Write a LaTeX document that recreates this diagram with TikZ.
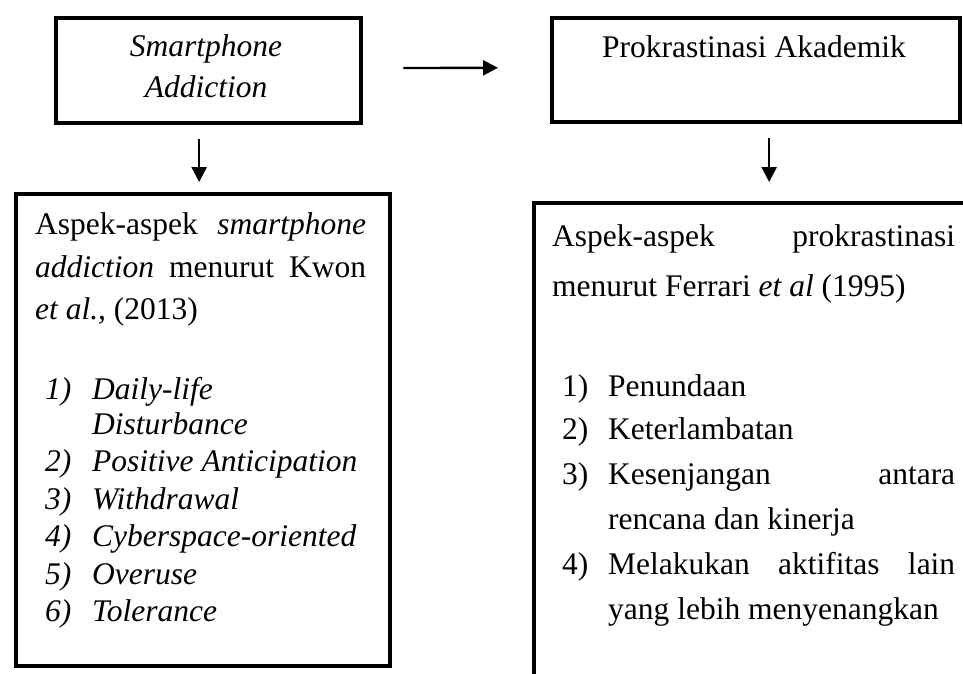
\documentclass[tikz,border=0pt]{standalone}
\usepackage{fontspec}
\setmainfont{Liberation Serif}
\usetikzlibrary{arrows.meta}
\tikzset{
  box/.style={draw=black, line width=4.3pt, fill=none, inner sep=0pt, anchor=north west},
  arr/.style={draw=black, line width=2.4pt, -{Triangle[length=15pt,width=15pt]}},
  txt/.style={inner sep=0pt, anchor=base west, font=\fontsize{31.5}{36}\selectfont},
  ctxt/.style={inner sep=0pt, anchor=base, font=\fontsize{31.5}{36}\selectfont}
}
\begin{document}
\begin{tikzpicture}[x=1pt,y=-1pt]
\useasboundingbox (0,0) rectangle (963,673);
\clip (0,0) rectangle (963,673);
\fill[white] (0,0) rectangle (963,673);
% boxes
\node[box, minimum width=305pt, minimum height=105pt] (b1) at (54,16) {};
\node[box, minimum width=408pt, minimum height=104pt] (b2) at (550,16) {};
\node[box, minimum width=374pt, minimum height=472pt] (b3) at (14,192) {};
\node[box, minimum width=500pt, minimum height=520pt] (b4) at (532,201) {};
% top texts
\node[ctxt] (t1a) at (206,56) {\textit{Smartphone}};
\node[ctxt] (t1b) at (206,97) {\textit{Addiction}};
\node[ctxt] (t2) at (754,57) {Prokrastinasi Akademik};
% left box text
\node[txt] (l1) at (35,234) {\makebox[331pt][s]{Aspek-aspek \textit{smartphone}}};
\node[txt] (l2) at (35,277) {\makebox[331pt][s]{\textit{addiction} menurut Kwon}};
\node[txt] (l3) at (35,319) {\textit{et al.,} (2013)};
\node[txt] (n1) at (45,399) {\textit{1)}};
\node[txt] (i1) at (92,399) {\textit{Daily-life}};
\node[txt] (i1b) at (92,434) {\textit{Disturbance}};
\node[txt] (n2) at (45,471) {\textit{2)}};
\node[txt] (i2) at (92,471) {\textit{Positive Anticipation}};
\node[txt] (n3) at (45,509) {\textit{3)}};
\node[txt] (i3) at (92,509) {\textit{Withdrawal}};
\node[txt] (n4) at (45,546) {\textit{4)}};
\node[txt] (i4) at (92,546) {\textit{Cyberspace-oriented}};
\node[txt] (n5) at (45,584) {\textit{5)}};
\node[txt] (i5) at (92,584) {\textit{Overuse}};
\node[txt] (n6) at (45,621) {\textit{6)}};
\node[txt] (i6) at (92,621) {\textit{Tolerance}};
% right box text
\node[txt] (r1) at (552,246) {\makebox[403pt][s]{Aspek-aspek prokrastinasi}};
\node[txt] (r2) at (552,296) {menurut Ferrari \textit{et al} (1995)};
\node[txt] (m1) at (562,396) {1)};
\node[txt] (j1) at (608,396) {Penundaan};
\node[txt] (m2) at (562,439) {2)};
\node[txt] (j2) at (608,439) {Keterlambatan};
\node[txt] (m3) at (562,484) {3)};
\node[txt] (j3) at (608,484) {\makebox[347pt][s]{Kesenjangan antara}};
\node[txt] (j3b) at (608,529) {rencana dan kinerja};
\node[txt] (m4) at (562,574) {4)};
\node[txt] (j4) at (608,574) {\makebox[347pt][s]{Melakukan aktifitas lain}};
\node[txt] (j4b) at (608,619) {yang lebih menyenangkan};
% arrows
\draw[arr, shorten <=40pt, shorten >=52pt] ([yshift=2.5pt]b1.east) -- ([yshift=2.5pt]b2.west);
\draw[arr, shorten <=14pt, shorten >=10pt] ([xshift=-9.5pt]b1.south) -- ([xshift=-9.5pt]b1.south |- b3.north);
\draw[arr, shorten <=14pt, shorten >=19pt] ([xshift=13pt]b2.south) -- ([xshift=13pt]b2.south |- b4.north);
\end{tikzpicture}
\end{document}
